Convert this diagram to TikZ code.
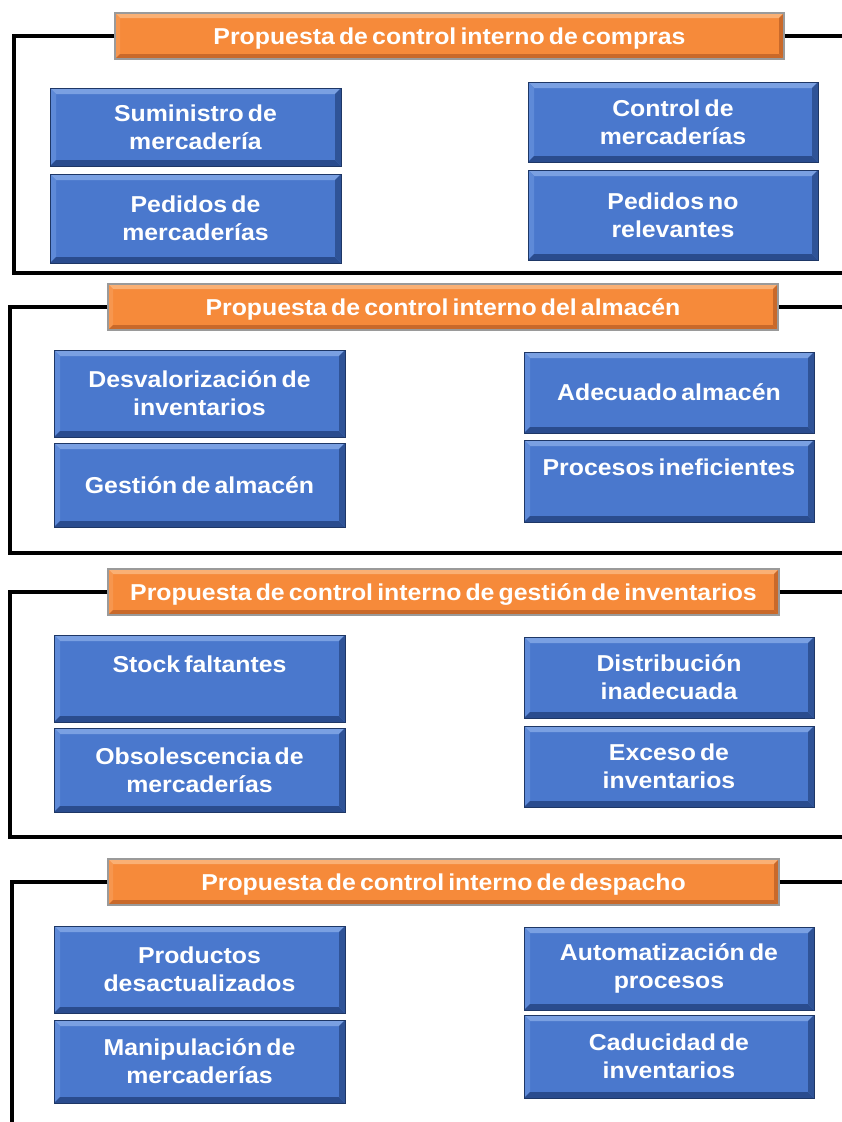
\documentclass[tikz,border=0pt]{standalone}
\usepackage{fontspec}
\setmainfont{Liberation Sans}[FakeStretch=1.08, WordSpace=0.6]
\usetikzlibrary{calc}

\definecolor{boxblue}{HTML}{4A78CD}
\definecolor{boxlight}{HTML}{7AA0E2}
\definecolor{boxside}{HTML}{5E8AD8}
\definecolor{boxdark}{HTML}{2A4C8E}
\definecolor{boxrim}{HTML}{1E3766}
\definecolor{hdorange}{HTML}{F68A3A}
\definecolor{hdlight}{HTML}{FAB074}
\definecolor{hddark}{HTML}{C9692A}
\definecolor{hdrim}{HTML}{9A9A9A}

% four bevel facets drawn inside the current node
\newcommand\bevelfacets[5]{%
  \coordinate (bnw) at (path picture bounding box.north west);
  \coordinate (bne) at (path picture bounding box.north east);
  \coordinate (bsw) at (path picture bounding box.south west);
  \coordinate (bse) at (path picture bounding box.south east);
  \fill[#2] (bnw) -- (bne) -- ([shift={(-#1,-#1)}]bne) -- ([shift={(#1,-#1)}]bnw) -- cycle;
  \fill[#3] (bnw) -- (bsw) -- ([shift={(#1,#1)}]bsw) -- ([shift={(#1,-#1)}]bnw) -- cycle;
  \fill[#4] (bsw) -- (bse) -- ([shift={(-#1,#1)}]bse) -- ([shift={(#1,#1)}]bsw) -- cycle;
  \fill[#5] (bne) -- (bse) -- ([shift={(-#1,#1)}]bse) -- ([shift={(-#1,-#1)}]bne) -- cycle;
}

\tikzset{
  x=1pt, y=-1pt,
  frameline/.style={line width=4pt, black},
  bluebox/.style={
    draw=boxrim, line width=1pt, fill=boxblue, text=white,
    inner sep=0pt, align=center,
    font=\bfseries\fontsize{23}{28}\selectfont,
    path picture={\bevelfacets{6pt}{boxlight}{boxside}{boxdark}{boxdark!85!boxblue}}},
  header/.style={
    draw=hdrim, line width=1.5pt, fill=hdorange, text=white,
    inner sep=0pt, align=center, text height=16.5pt, text depth=0pt,
    font=\bfseries\fontsize{23}{26}\selectfont,
    path picture={\bevelfacets{5pt}{hdlight}{hdorange!90!white}{hddark}{hddark}}},
}

% box placed by its corners (x1,y1) and (x2,y2)
\newcommand\tile[6]{%
  \node[bluebox, minimum width={#4-#2}, minimum height={#5-#3}]
    (#1) at ({(#2+#4)/2},{(#3+#5)/2}) {#6};}
\newcommand\banner[6]{%
  \node[header, minimum width={#4-#2}, minimum height={#5-#3}]
    (#1) at ({(#2+#4)/2},{(#3+#5)/2}) {#6};}

\begin{document}
\begin{tikzpicture}
\useasboundingbox[fill=white] (0,0) rectangle (842,1122);

\coordinate (edge) at (848,0);

% ---- compras ----
\coordinate (f1bl) at (14,273);
\banner{h1}{115}{13}{784}{59}{Propuesta de control interno de compras}
\draw[frameline] (h1.west) -| (f1bl) -- (f1bl -| edge);
\draw[frameline] (h1.east) -- (h1.east -| edge);
\tile{a1}{50}{88}{341}{166}{Suministro de\\mercadería}
\tile{a2}{50}{174}{341}{263}{Pedidos de\\mercaderías}
\tile{a3}{528}{82}{818}{162}{Control de\\mercaderías}
\tile{a4}{528}{170}{818}{260}{Pedidos no\\relevantes}

% ---- almacén ----
\coordinate (f2bl) at (10,553);
\banner{h2}{108}{284}{778}{330}{Propuesta de control interno del almacén}
\draw[frameline] (h2.west) -| (f2bl) -- (f2bl -| edge);
\draw[frameline] (h2.east) -- (h2.east -| edge);
\tile{b1}{54}{350}{345}{437}{Desvalorización de\\inventarios}
\tile{b2}{54}{443}{345}{527}{Gestión de almacén}
\tile{b3}{524}{352}{814}{433}{Adecuado almacén}
\tile{b4}{524}{440}{814}{522}{Procesos ineficientes\\\mbox{}}

% ---- gestión de inventarios ----
\coordinate (f3bl) at (10,837);
\banner{h3}{108}{569}{779}{615}{Propuesta de control interno de gestión de inventarios}
\draw[frameline] (h3.west) -| (f3bl) -- (f3bl -| edge);
\draw[frameline] (h3.east) -- (h3.east -| edge);
\tile{c1}{54}{635}{345}{722}{Stock faltantes\\\mbox{}}
\tile{c2}{54}{728}{345}{812}{Obsolescencia de\\mercaderías}
\tile{c3}{524}{637}{814}{718}{Distribución\\inadecuada}
\tile{c4}{524}{726}{814}{807}{Exceso de\\inventarios}

% ---- despacho ----
\coordinate (f4bl) at (12,1130);
\banner{h4}{108}{859}{779}{905}{Propuesta de control interno de despacho}
\draw[frameline] (h4.west) -| (f4bl);
\draw[frameline] (h4.east) -- (h4.east -| edge);
\tile{d1}{54}{926}{345}{1013}{Productos\\desactualizados}
\tile{d2}{54}{1020}{345}{1103}{Manipulación de\\mercaderías}
\tile{d3}{524}{927}{814}{1010}{Automatización de\\procesos}
\tile{d4}{524}{1015}{814}{1098}{Caducidad de\\inventarios}
\end{tikzpicture}
\end{document}
